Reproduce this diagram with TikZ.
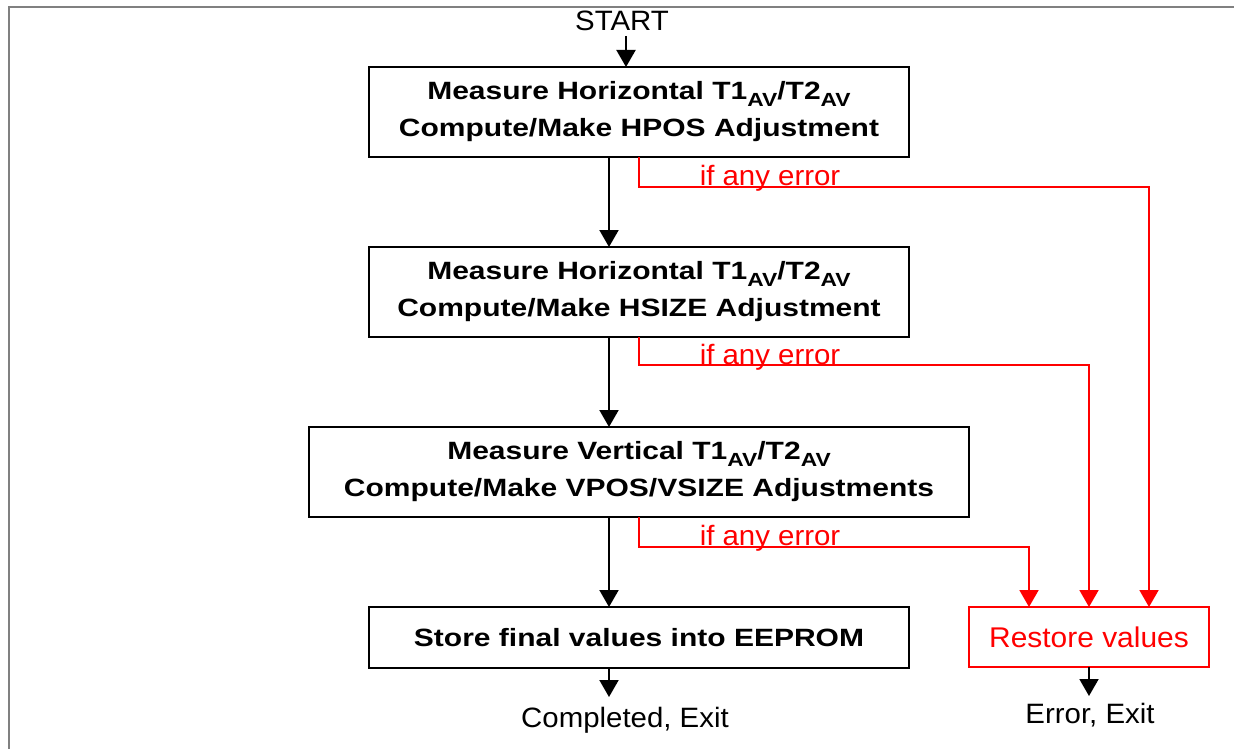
\documentclass[tikz,border=0pt]{standalone}
\usepackage{fontspec}
\setmainfont{Liberation Sans}[FakeStretch=1.05]
\newfontfamily\bfx{Liberation Sans}[FakeStretch=1.2]
\usetikzlibrary{arrows.meta}
\newcommand\avs{\raisebox{-7pt}{\fontsize{19}{19}\selectfont AV}}
\begin{document}
\begin{tikzpicture}[x=1pt,y=-1pt,
  box/.style={draw=black,line width=2pt,outer sep=0pt,inner sep=0pt,align=center,
    font=\bfx\fontsize{25}{37}\selectfont\bfseries},
  rbox/.style={draw=red,line width=2pt,outer sep=0pt,inner sep=0pt,align=center,
    text=red,font=\fontsize{28.5}{34}\selectfont},
  arr/.style={line width=2pt,-{Triangle[width=19pt,length=17pt]}},
  rarr/.style={draw=red,line width=2pt,-{Triangle[width=19pt,length=17pt]}},
  lbl/.style={inner sep=0pt,font=\fontsize{28}{34}\selectfont},
  rlbl/.style={inner sep=0pt,text=red,font=\fontsize{28}{34}\selectfont}]
\useasboundingbox (0,0) rectangle (1234,749);
% frame
\draw[line width=2pt,gray] (9,749) -- (9,7) -- (1234,7);

\node[lbl,anchor=base] (start) at (622,31) {START};
\node[box,minimum width=540pt,minimum height=90pt] (b1) at (639,112)
  {Measure Horizontal T1\avs/T2\avs\\Compute/Make HPOS Adjustment};
\node[box,minimum width=540pt,minimum height=90pt] (b2) at (639,292)
  {Measure Horizontal T1\avs/T2\avs\\Compute/Make HSIZE Adjustment};
\node[box,minimum width=660pt,minimum height=90pt] (b3) at (639,472)
  {Measure Vertical T1\avs/T2\avs\\Compute/Make VPOS/VSIZE Adjustments};
\node[box,minimum width=540pt,minimum height=61pt] (b4) at (639,637.5)
  {Store final values into EEPROM};
\node[rbox,minimum width=240pt,minimum height=60pt] (rs) at (1089,637)
  {Restore values};

\coordinate (xs) at (626,0);
\coordinate (xm) at (609,0);
\coordinate (s0) at (626,36);
\coordinate (e1) at (609,697);
\coordinate (e2) at (1089,696);

\draw[arr] (s0) -- (b1.north -| xs);
\draw[arr] (b1.south -| xm) -- (b2.north -| xm);
\draw[arr] (b2.south -| xm) -- (b3.north -| xm);
\draw[arr] (b3.south -| xm) -- (b4.north -| xm);
\draw[arr] (b4.south -| xm) -- (e1);
\draw[arr] (rs.south) -- (e2);

\draw[rarr] (b1.south) -- ++(0,30) -| ([xshift=60pt]rs.north);
\draw[rarr] (b2.south) -- ++(0,28) -| (rs.north);
\draw[rarr] (b3.south) -- ++(0,30) -| ([xshift=-60pt]rs.north);

\node[rlbl,anchor=base] (l1) at (770,185) {if any error};
\node[rlbl,anchor=base] (l2) at (770,364) {if any error};
\node[rlbl,anchor=base] (l3) at (770,545) {if any error};

\node[lbl,anchor=base] (c1) at (625,727) {Completed, Exit};
\node[lbl,anchor=base] (c2) at (1090,723) {Error, Exit};
\end{tikzpicture}
\end{document}
